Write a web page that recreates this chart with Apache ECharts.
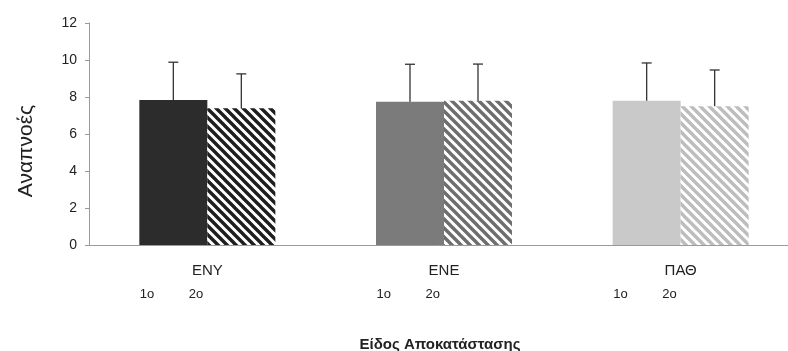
<!DOCTYPE html>
<html>
<head>
<meta charset="utf-8">
<script src="https://cdn.jsdelivr.net/npm/echarts@6/dist/echarts.min.js"></script>
<style>
html,body{margin:0;padding:0;background:#fff;}
#c{width:788px;height:351px;}
</style>
</head>
<body>
<div id="c"></div>
<script>
// ---- data ----
const categories = ['ENY', 'ENE', 'ΠΑΘ'];
const subLabels = ['1o', '2o'];
const first = [7.84, 7.75, 7.8];       // 1o
const second = [7.39, 7.8, 7.5];       // 2o
const firstErrTop = [9.88, 9.77, 9.84];
const secondErrTop = [9.25, 9.78, 9.46];
const yTicks = { min: 0, max: 12, interval: 2 };
const yTitle = 'Αναπνοές';
const xTitle = 'Είδος Αποκατάστασης';

// ---- styles ----
const solidColors = ['#2c2c2c', '#7b7b7b', '#c9c9c9'];
const stripeColors = ['#1e1e1e', '#6e6e6e', '#bdbdbd'];
const BAR_W = 68;
const FONT = 'Liberation Sans, Arial, sans-serif';

function stripePattern(color) {
  const s = 9;
  const cv = document.createElement('canvas');
  cv.width = s; cv.height = s;
  const g = cv.getContext('2d');
  g.fillStyle = '#fff';
  g.fillRect(0, 0, s, s);
  g.strokeStyle = color;
  g.lineWidth = 3.4;
  g.beginPath();
  [-s, 0, s].forEach(function (c) {
    g.moveTo(c - 1, -1);
    g.lineTo(c + s + 1, s + 1);
  });
  g.stroke();
  return { image: cv, repeat: 'repeat' };
}

const chart = echarts.init(document.getElementById('c'), null, { renderer: 'canvas' });

function errSeries(vals, tops, offset) {
  return {
    type: 'custom',
    xAxisIndex: 0,
    z: 5,
    data: categories.map(function (c, i) { return [i, vals[i], tops[i]]; }),
    renderItem: function (params, api) {
      const i = api.value(0);
      const b = api.coord([i, api.value(1)]);
      const t = api.coord([i, api.value(2)]);
      const x = b[0] + offset;
      return {
        type: 'group',
        children: [
          { type: 'line', shape: { x1: x, y1: b[1], x2: x, y2: t[1] }, style: { stroke: '#333', lineWidth: 1.3 } },
          { type: 'line', shape: { x1: x - 5, y1: t[1], x2: x + 5, y2: t[1] }, style: { stroke: '#333', lineWidth: 1.3 } }
        ]
      };
    }
  };
}

const option = {
  backgroundColor: '#fff',
  animation: false,
  grid: { left: 89, top: 23, width: 710, height: 222, outerBoundsMode: 'none', containLabel: false },
  xAxis: [
    {
      type: 'category',
      data: categories,
      position: 'bottom',
      axisLine: { lineStyle: { color: '#9a9a9a', width: 1 } },
      axisTick: { show: false },
      axisLabel: { margin: 18, fontSize: 15, color: '#222', fontFamily: FONT },
      name: xTitle,
      nameLocation: 'middle',
      nameGap: 92,
      nameTextStyle: { fontSize: 15, fontWeight: 'bold', color: '#222', fontFamily: FONT, padding: [0, 8, 0, 0] }
    },
    {
      type: 'category',
      data: categories,
      position: 'bottom',
      axisLine: { show: false },
      axisTick: { show: false },
      axisLabel: {
        margin: 43,
        align: 'right',
        formatter: function () { return '{a|' + subLabels[0] + '}{b|' + subLabels[1] + '}'; },
        rich: {
          a: { width: 49, align: 'left', fontSize: 13, color: '#222', fontFamily: FONT },
          b: { align: 'left', fontSize: 13, color: '#222', fontFamily: FONT, padding: [0, 4, 0, 0] }
        }
      }
    }
  ],
  yAxis: {
    type: 'value',
    min: yTicks.min, max: yTicks.max, interval: yTicks.interval,
    axisLine: { show: true, lineStyle: { color: '#9a9a9a', width: 1 } },
    axisTick: { show: true, length: 4, lineStyle: { color: '#9a9a9a' } },
    splitLine: { show: false },
    axisLabel: { margin: 12, fontSize: 14, color: '#222', fontFamily: FONT },
    name: yTitle,
    nameLocation: 'middle',
    nameGap: 52,
    nameRotate: 90,
    nameTextStyle: { fontSize: 21, color: '#222', fontFamily: FONT, padding: [0, 34, 0, 0] }
  },
  series: [
    {
      type: 'bar',
      barWidth: BAR_W,
      barGap: '0%',
      data: first.map(function (v, i) {
        return { value: v, itemStyle: { color: solidColors[i] } };
      })
    },
    {
      type: 'bar',
      barWidth: BAR_W,
      barGap: '0%',
      data: second.map(function (v, i) {
        return { value: v, itemStyle: { color: stripePattern(stripeColors[i]) } };
      })
    },
    errSeries(first, firstErrTop, -BAR_W / 2),
    errSeries(second, secondErrTop, BAR_W / 2)
  ]
};
chart.setOption(option);
</script>
</body>
</html>
